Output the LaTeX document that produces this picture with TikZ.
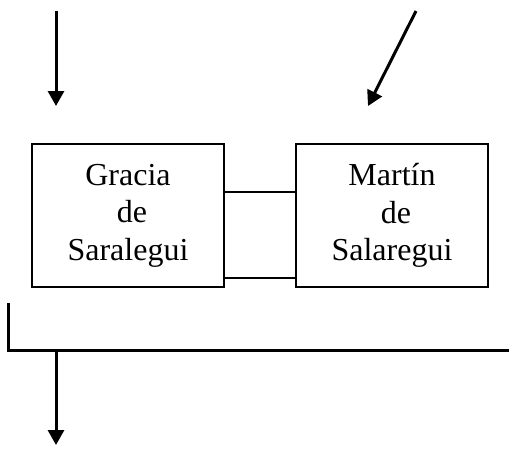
\documentclass[tikz,border=0pt]{standalone}
\usepackage{fontspec}
\setmainfont{Liberation Serif}
\usetikzlibrary{arrows.meta}
\begin{document}
\begin{tikzpicture}[x=1pt,y=-1pt,
  person/.style={draw,line width=2pt,minimum width=192pt,minimum height=143pt,
    inner sep=0pt,align=center,font=\fontsize{32}{37.5}\selectfont},
  bigarrow/.style={line width=3pt,-{Triangle[width=16pt,length=15pt]}},
  link/.style={line width=1.5pt},
  bracket/.style={line width=3pt}]
\useasboundingbox (0,0) rectangle (509,450);
\node[person] (g) at (128,215.5) {Gracia\\ \hspace*{8pt}de\\ Saralegui};
\node[person] (m) at (392,215.5) {Martín\\ \hspace*{8pt}de\\ Salaregui};
\coordinate (a1s) at (56,11);
\coordinate (a1e) at (56,106);
\coordinate (a2s) at (416,11);
\coordinate (a2e) at (368,106);
\draw[bigarrow] (a1s) -- (a1e);
\draw[bigarrow] (a2s) -- (a2e);
\draw[link] ([yshift=23.5pt]g.east) -- ([yshift=23.5pt]m.west);
\draw[link] ([yshift=-62.5pt]g.east) -- ([yshift=-62.5pt]m.west);
\coordinate (bk) at (8,303);
\coordinate (bkend) at (509,350);
\coordinate (jn) at (56,350);
\coordinate (out) at (56,445);
\draw[bracket] (bk) |- (bkend);
\draw[bigarrow] (jn) -- (out);
\end{tikzpicture}
\end{document}
